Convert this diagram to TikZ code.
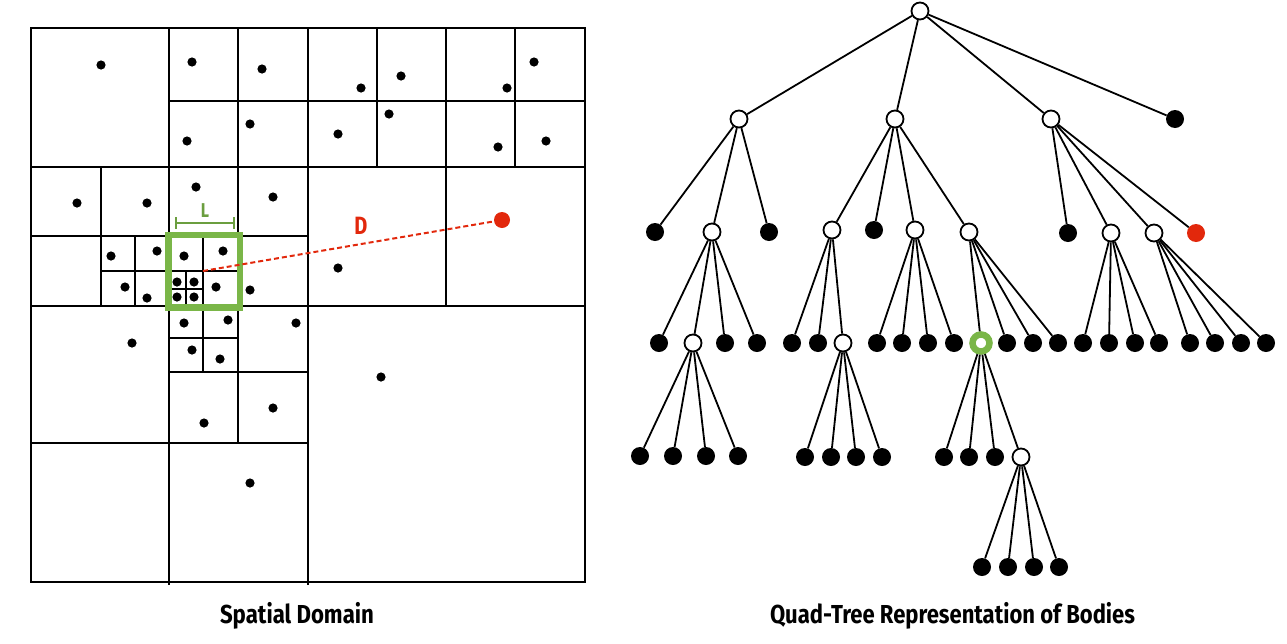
\documentclass[tikz,border=0pt]{standalone}
\usepackage{fontspec}
\usepackage{graphicx}
\newfontfamily\titfont{Fira Sans}
\definecolor{bhred}{HTML}{E2280C}
\definecolor{bhgreen}{HTML}{7AB648}
\definecolor{bhdkgreen}{HTML}{6B9E3F}
\begin{document}
\begin{tikzpicture}[x=1pt,y=-1pt,
  gridline/.style={line width=2pt, line cap=rect},
  opn/.style={circle, draw=black, fill=white, line width=1.8pt, inner sep=0pt, minimum size=17pt},
  blk/.style={circle, fill=black, inner sep=0pt, minimum size=18pt},
  redleaf/.style={circle, fill=bhred, inner sep=0pt, minimum size=18pt},
  grn/.style={circle, draw=bhgreen, fill=white, line width=6.5pt, inner sep=0pt, minimum size=17pt},
  edge/.style={line width=1.8pt},
  title/.style={anchor=base, inner sep=0pt}
]
\useasboundingbox (0,0) rectangle (1287,643);

% ---------------- Spatial domain ----------------
\draw[gridline] (31,28) rectangle (585,582);
% main quadrant lines
\draw[gridline] (308,28) -- (308,584);
\draw[gridline] (31,306) -- (585,306);
% top-left quadrant
\draw[gridline] (169,28) -- (169,306);
\draw[gridline] (31,167) -- (308,167);
\draw[gridline] (238,28) -- (238,167);
\draw[gridline] (169,101) -- (308,101);
\draw[gridline] (31,236) -- (308,236);
\draw[gridline] (101,167) -- (101,306);
\draw[gridline] (135,236) -- (135,306);
\draw[gridline] (101,271) -- (169,271);
\draw[gridline] (238,167) -- (238,306);
\draw[gridline] (203,236) -- (203,306);
\draw[gridline] (169,271) -- (238,271);
\draw[gridline] (186,271) -- (186,306);
\draw[gridline] (169,289) -- (203,289);
% top-right quadrant
\draw[gridline] (446,28) -- (446,306);
\draw[gridline] (308,167) -- (585,167);
\draw[gridline] (377,28) -- (377,167);
\draw[gridline] (515,28) -- (515,167);
\draw[gridline] (308,101) -- (585,101);
% bottom-left quadrant
\draw[gridline] (169,306) -- (169,584);
\draw[gridline] (31,443) -- (308,443);
\draw[gridline] (238,306) -- (238,443);
\draw[gridline] (169,372) -- (308,372);
\draw[gridline] (203,306) -- (203,372);
\draw[gridline] (169,338) -- (238,338);

% bodies
\foreach \bx/\by in {101/65,192/62,262/69,187/141,250/124,196/187,77/203,147/203,273/197,
  111/256,157/251,184/256,223/251,125/287,147/298,177/282,194/282,177/297,194/297,216/287,250/290,
  361/88,401/76,507/88,534/62,338/134,389/114,498/147,546/141,338/268,
  184/323,228/320,296/323,132/343,192/350,220/359,273/408,204/423,250/483,381/377}
  \fill (\bx,\by) circle (4.6);

% green cell, L bracket
\draw[bhgreen, line width=6.5pt] (168.5,235) rectangle (240,307.5);
\draw[bhdkgreen, line width=2pt] (176,223) -- (234,223);
\draw[bhdkgreen, line width=2pt] (176,217) -- (176,229);
\draw[bhdkgreen, line width=2pt] (234,217) -- (234,229);
\node[text=bhdkgreen, inner sep=0pt] (lbl) at (205,211) {\scalebox{0.8}[1]{\titfont\bfseries\fontsize{20}{22}\selectfont L}};

% distance to far body
\coordinate (cm) at (203,271);
\node[redleaf, minimum size=16pt] (far) at (502,220) {};
\draw[bhred, line width=2pt, dash pattern=on 5pt off 3pt] (cm) -- (far);
\node[text=bhred, inner sep=0pt] (dlbl) at (361,226) {\scalebox{0.8}[1]{\titfont\bfseries\fontsize{25}{28}\selectfont D}};

\node[title] (t1) at (297,623) {\resizebox{154pt}{\height}{\titfont\bfseries\fontsize{26}{30}\selectfont Spatial Domain}};

% ---------------- Quad-tree ----------------
\node[opn] (r) at (920,11) {};
\node[opn] (A) at (739,119) {};
\node[opn] (B) at (895,119) {};
\node[opn] (C) at (1051,119) {};
\node[blk] (Dk) at (1175,119) {};

\node[blk] (A1) at (655,232) {};
\node[opn] (A2) at (712,232) {};
\node[blk] (A3) at (769,232) {};
\node[opn] (B1) at (832,230) {};
\node[blk] (B2) at (874,230) {};
\node[opn] (B3) at (915,230) {};
\node[opn] (B4) at (969,232) {};
\node[blk] (C1) at (1068,233) {};
\node[opn] (C2) at (1111,233) {};
\node[opn] (C3) at (1154,233) {};
\node[redleaf] (C4) at (1196,233) {};

\node[blk] (a21) at (659,343) {};
\node[opn] (a22) at (693,343) {};
\node[blk] (a23) at (725,343) {};
\node[blk] (a24) at (757,343) {};
\node[blk] (b11) at (792,343) {};
\node[blk] (b12) at (818,343) {};
\node[opn] (b13) at (843,343) {};
\node[blk] (b31) at (877,343) {};
\node[blk] (b32) at (902,343) {};
\node[blk] (b33) at (928,343) {};
\node[blk] (b34) at (954,343) {};
\node[grn] (b41) at (981,343) {};
\node[blk] (b42) at (1007,343) {};
\node[blk] (b43) at (1033,343) {};
\node[blk] (b44) at (1058,343) {};
\node[blk] (c21) at (1083,343) {};
\node[blk] (c22) at (1109,343) {};
\node[blk] (c23) at (1135,343) {};
\node[blk] (c24) at (1159,343) {};
\node[blk] (c31) at (1190,343) {};
\node[blk] (c32) at (1215,343) {};
\node[blk] (c33) at (1241,343) {};
\node[blk] (c34) at (1266,343) {};

\node[blk] (d1) at (640,456) {};
\node[blk] (d2) at (673,456) {};
\node[blk] (d3) at (706,456) {};
\node[blk] (d4) at (738,456) {};
\node[blk] (e1) at (805,457) {};
\node[blk] (e2) at (831,457) {};
\node[blk] (e3) at (856,457) {};
\node[blk] (e4) at (882,457) {};
\node[blk] (g1) at (944,457) {};
\node[blk] (g2) at (969,457) {};
\node[blk] (g3) at (995,457) {};
\node[opn] (g4) at (1021,457) {};

\node[blk] (h1) at (982,567) {};
\node[blk] (h2) at (1008,567) {};
\node[blk] (h3) at (1034,567) {};
\node[blk] (h4) at (1059,567) {};

\foreach \p/\c in {r/A,r/B,r/C,r/Dk,A/A1,A/A2,A/A3,B/B1,B/B2,B/B3,B/B4,C/C1,C/C2,C/C3,C/C4,
  A2/a21,A2/a22,A2/a23,A2/a24,B1/b11,B1/b12,B1/b13,B3/b31,B3/b32,B3/b33,B3/b34,
  B4/b41,B4/b42,B4/b43,B4/b44,C2/c21,C2/c22,C2/c23,C2/c24,C3/c31,C3/c32,C3/c33,C3/c34,
  a22/d1,a22/d2,a22/d3,a22/d4,b13/e1,b13/e2,b13/e3,b13/e4,b41/g1,b41/g2,b41/g3,b41/g4,
  g4/h1,g4/h2,g4/h3,g4/h4}
  \draw[edge] (\p) -- (\c);

\node[title] (t2) at (952.5,623) {\resizebox{365pt}{\height}{\titfont\bfseries\fontsize{26}{30}\selectfont Quad-Tree Representation of Bodies}};
\end{tikzpicture}
\end{document}
